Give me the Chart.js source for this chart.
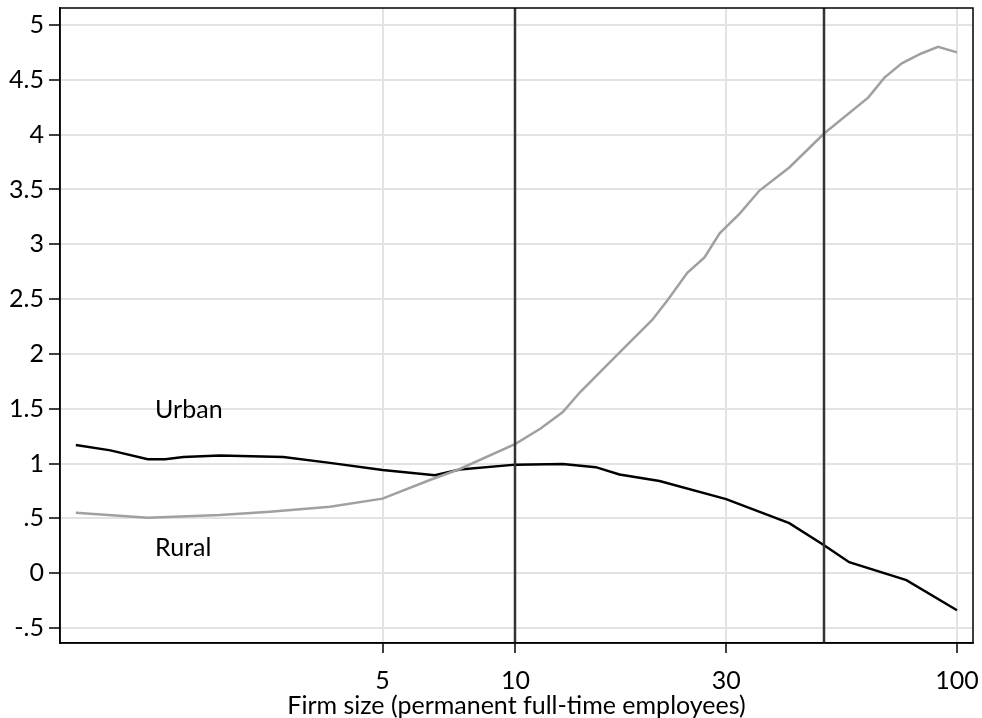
<!DOCTYPE html>
<html>
<head>
<meta charset="utf-8">
<script src="https://cdn.jsdelivr.net/npm/chart.js@4.4.0/dist/chart.umd.min.js"></script>
<style>
  html, body { margin: 0; padding: 0; background: #fff; }
  #wrap { width: 982px; height: 718px; }
</style>
</head>
<body>
<div id="wrap"><canvas id="grafico"></canvas></div>
<script>
// firm size (log scale) and fitted values
const xUrban = [1.01, 1.21, 1.47, 1.61, 1.77, 2.14, 2.98, 3.8, 5, 6.57, 7.48, 10, 12.8, 15.2, 17.2, 21.2, 30, 41.7, 50, 57, 76.8, 100];
const yUrban = [1.168, 1.12, 1.04, 1.04, 1.06, 1.074, 1.06, 1.006, 0.94, 0.894, 0.946, 0.99, 0.995, 0.967, 0.90, 0.84, 0.675, 0.456, 0.255, 0.10, -0.064, -0.338];

const xRural = [1.01, 1.47, 2.14, 2.78, 3.8, 5, 6.4, 7.48, 10, 11.4, 12.8, 14.0, 16.8, 20.4, 22.1, 24.5, 26.8, 29, 32.2, 35.7, 41.7, 50, 63, 68.5, 75, 83, 90.6, 100];
const yRural = [0.55, 0.505, 0.53, 0.56, 0.605, 0.68, 0.85, 0.95, 1.18, 1.32, 1.47, 1.65, 1.97, 2.31, 2.49, 2.74, 2.88, 3.10, 3.28, 3.49, 3.70, 4.01, 4.34, 4.52, 4.65, 4.74, 4.80, 4.75];

const xTicks = [5, 10, 30, 100];
const yTicks = [-0.5, 0, 0.5, 1, 1.5, 2, 2.5, 3, 3.5, 4, 4.5, 5];
const xLines = [10, 50];

const labelText = ['Urban', 'Rural'];
const labelX = [1.527, 1.527];
const labelY = [1.49, 0.23];

const fuente = 'Lato, "Open Sans", sans-serif';
const tamano = 25;

function puntos(xs, ys) {
    return xs.map((x, i) => ({ x: x, y: ys[i] }));
}

function formatoY(v) {
    let s = String(Math.round(v * 10) / 10);
    return s.replace(/^0\./, '.').replace(/^-0\./, '-.');
}

// box, reference lines and in-plot labels
const extras = {
    id: 'extras',
    afterDatasetsDraw(chart) {
        const { ctx, chartArea, scales } = chart;
        ctx.save();
        ctx.strokeStyle = '#333';
        ctx.lineWidth = 2.5;
        xLines.forEach(v => {
            const px = Math.round(scales.x.getPixelForValue(v));
            ctx.beginPath();
            ctx.moveTo(px, chartArea.top);
            ctx.lineTo(px, chartArea.bottom);
            ctx.stroke();
        });
        ctx.strokeStyle = '#000';
        ctx.lineWidth = 1.5;
        ctx.strokeRect(chartArea.left, chartArea.top, chartArea.right - chartArea.left, chartArea.bottom - chartArea.top);

        ctx.fillStyle = '#000';
        ctx.font = tamano + 'px ' + fuente;
        ctx.textAlign = 'left';
        ctx.textBaseline = 'middle';
        labelText.forEach((t, i) => {
            ctx.fillText(t, scales.x.getPixelForValue(labelX[i]), scales.y.getPixelForValue(labelY[i]));
        });
        ctx.restore();
    }
};

const ctx = document.getElementById('grafico');
new Chart(ctx, {
    type: 'line',
    data: {
        datasets: [
            {
                label: 'Rural',
                data: puntos(xRural, yRural),
                borderColor: '#a0a0a0',
                borderWidth: 2.5,
                pointRadius: 0,
                tension: 0
            },
            {
                label: 'Urban',
                data: puntos(xUrban, yUrban),
                borderColor: '#000',
                borderWidth: 2.5,
                pointRadius: 0,
                tension: 0
            }
        ]
    },
    options: {
        responsive: true,
        maintainAspectRatio: false,
        animation: false,
        layout: { padding: { top: 8, right: 9, left: 0, bottom: 0 } },
        plugins: { legend: { display: false }, tooltip: { enabled: false } },
        scales: {
            x: {
                type: 'logarithmic',
                min: 0.93,
                max: 108.7,
                afterBuildTicks: axis => { axis.ticks = xTicks.map(v => ({ value: v })); },
                afterFit: axis => {
                    axis.height = 75;
                    axis.paddingLeft = 0;
                    axis.paddingRight = 0;
                },
                ticks: {
                    callback: v => String(v),
                    color: '#000',
                    font: { family: fuente, size: tamano },
                    padding: 13,
                    maxRotation: 0,
                    autoSkip: false
                },
                grid: { color: '#e3e3e3', lineWidth: 2, tickColor: '#000', tickWidth: 1.5, tickLength: 10 },
                border: { color: '#000', width: 1.5 },
                title: {
                    display: true,
                    text: 'Firm size (permanent full-time employees)',
                    color: '#000',
                    font: { family: fuente, size: tamano },
                    padding: { top: 0, bottom: -3 }
                }
            },
            y: {
                min: -0.637,
                max: 5.155,
                afterBuildTicks: axis => { axis.ticks = yTicks.map(v => ({ value: v })); },
                afterFit: axis => {
                    axis.width = 60;
                    axis.paddingTop = 0;
                    axis.paddingBottom = 0;
                },
                ticks: {
                    callback: v => formatoY(v),
                    color: '#000',
                    font: { family: fuente, size: tamano },
                    padding: 5,
                    autoSkip: false
                },
                grid: { color: '#e3e3e3', lineWidth: 2, tickColor: '#000', tickWidth: 1.5, tickLength: 11 },
                border: { color: '#000', width: 1.5 }
            }
        }
    },
    plugins: [extras]
});
</script>
</body>
</html>
